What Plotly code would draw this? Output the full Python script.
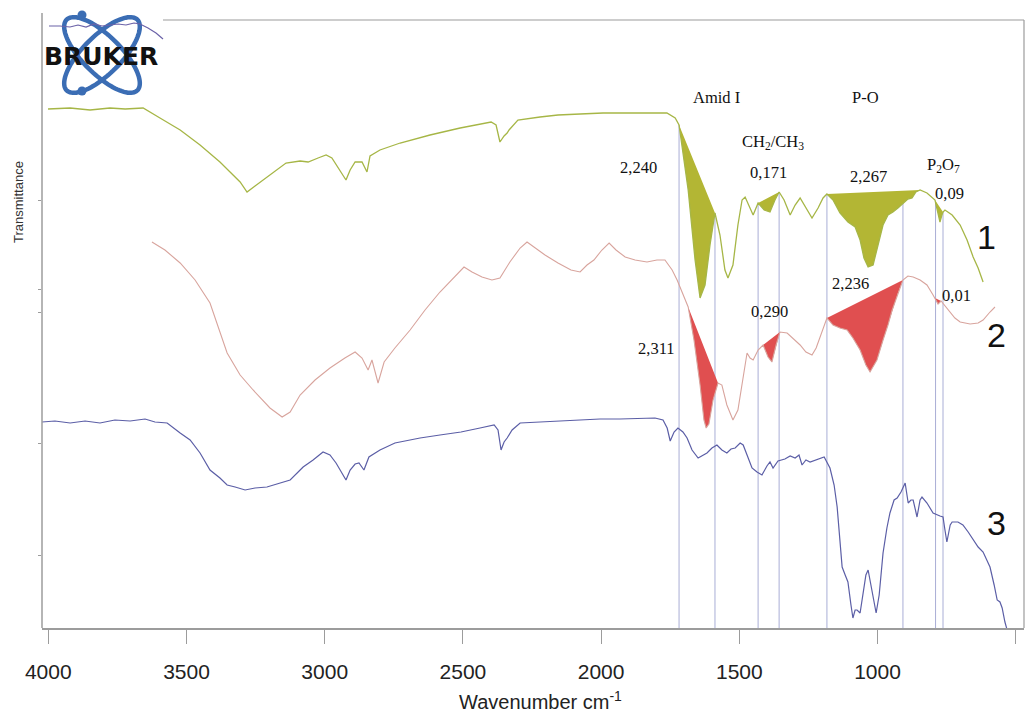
import numpy as np
import plotly.graph_objects as go

# ---------------- data (wavenumber cm-1, transmittance a.u.) ----------------
wn1 = [4001, 3921, 3849, 3777, 3722, 3657, 3596, 3523, 3451, 3379, 3306, 3281, 3252, 3198,
       3140, 3089, 3060, 3024, 2995, 2974, 2952, 2923, 2908, 2890, 2865, 2847, 2836, 2800,
       2727, 2619, 2510, 2398, 2380, 2366, 2351, 2340, 2333, 2301, 2221, 2156, 2076, 1993,
       1859, 1762, 1732, 1718, 1685, 1660, 1642, 1624, 1606, 1588, 1570, 1552, 1541, 1523,
       1505, 1490, 1479, 1465, 1450, 1432, 1410, 1389, 1371, 1356, 1338, 1316, 1298, 1280,
       1259, 1237, 1215, 1197, 1183, 1161, 1136, 1107, 1081, 1063, 1049, 1034, 1016, 998,
       980, 962, 944, 926, 908, 890, 875, 861, 846, 821, 792, 781, 774, 767, 763, 756, 730,
       701, 676, 654, 636, 618]
t1 = [519, 520, 518, 520, 519, 520, 510, 498, 483, 466, 446, 436, 442, 453,
      465, 467, 466, 470, 473, 470, 460, 448, 458, 466, 466, 456, 472, 478,
      485, 493, 500, 506, 503, 486, 492, 495, 498, 508, 511, 513, 514, 515,
      515, 515, 510, 503, 438, 368, 330, 343, 383, 415, 393, 358, 350, 363,
      403, 428, 431, 423, 413, 425, 418, 416, 428, 436, 428, 413, 423, 430,
      420, 410, 420, 430, 434, 428, 415, 406, 401, 388, 370, 361, 363, 383,
      403, 413, 416, 420, 425, 429, 430, 436, 438, 435, 428, 416, 406, 413, 416, 418, 413,
      403, 388, 371, 360, 346]

wn2 = [3625, 3578, 3523, 3469, 3415, 3353, 3306, 3259, 3198, 3154, 3125, 3089, 3035, 2981,
       2927, 2890, 2865, 2843, 2829, 2807, 2785, 2746, 2691, 2637, 2583, 2547, 2496, 2467,
       2431, 2395, 2366, 2330, 2293, 2268, 2239, 2203, 2156, 2109, 2076, 2051, 2026, 1997,
       1971, 1946, 1913, 1877, 1834, 1798, 1769, 1743, 1725, 1704, 1685, 1664, 1642, 1628,
       1620, 1610, 1595, 1577, 1563, 1545, 1523, 1505, 1486, 1472, 1461, 1450, 1432, 1414,
       1396, 1382, 1367, 1353, 1327, 1306, 1280, 1259, 1237, 1222, 1208, 1183, 1161, 1136,
       1110, 1089, 1063, 1042, 1027, 1002, 980, 962, 947, 926, 908, 890, 871, 846, 821, 799,
       792, 781, 770, 756, 738, 720, 701, 665, 636, 618, 593, 575]
t2 = [386, 378, 365, 348, 325, 275, 253, 238, 220, 211, 216, 233, 248, 260,
      270, 276, 270, 258, 268, 245, 266, 280, 298, 318, 336, 346, 361, 356,
      351, 348, 350, 366, 380, 386, 380, 373, 365, 358, 356, 363, 368, 378,
      385, 378, 371, 368, 366, 368, 368, 358, 348, 333, 321, 288, 243, 208,
      200, 204, 228, 245, 243, 223, 208, 218, 253, 275, 270, 268, 278, 283,
      271, 266, 283, 296, 295, 290, 283, 276, 273, 280, 291, 310, 303, 300,
      298, 290, 278, 263, 256, 268, 288, 303, 318, 335, 348, 352, 351, 348, 343, 333,
      330, 324, 327, 322, 316, 310, 306, 304, 305, 308, 316, 321]

wn3 = [4023, 3976, 3921, 3867, 3813, 3759, 3704, 3650, 3614, 3570, 3523, 3487, 3451, 3415,
       3379, 3353, 3324, 3288, 3252, 3209, 3173, 3125, 3078, 3042, 3006, 2981, 2959, 2941,
       2923, 2908, 2890, 2876, 2858, 2840, 2800, 2746, 2655, 2583, 2507, 2438, 2387, 2373,
       2362, 2351, 2340, 2322, 2293, 2221, 2149, 2076, 2004, 1932, 1859, 1805, 1776, 1761,
       1750, 1736, 1722, 1704, 1689, 1671, 1649, 1631, 1617, 1599, 1581, 1563, 1545, 1530,
       1515, 1497, 1486, 1472, 1454, 1436, 1418, 1400, 1389, 1378, 1360, 1335, 1316, 1298,
       1284, 1273, 1259, 1244, 1222, 1193, 1172, 1157, 1146, 1136, 1128, 1117, 1107, 1096,
       1089, 1081, 1074, 1063, 1052, 1042, 1034, 1024, 1013, 1005, 994, 980, 966, 955, 940,
       929, 915, 900, 889, 879, 871, 857, 846, 839, 821, 799, 774, 763, 756, 749, 737, 730,
       709, 691, 672, 651, 636, 618, 604, 593, 578, 567, 557, 549, 539, 531]
t3 = [206, 207, 205, 207, 205, 208, 207, 209, 206, 205, 195, 188, 175, 158,
      150, 143, 141, 138, 140, 141, 144, 148, 161, 168, 176, 173, 165, 156,
      148, 158, 164, 165, 158, 171, 178, 185, 190, 193, 196, 200, 203, 198,
      178, 186, 190, 198, 205, 206, 207, 208, 209, 209, 210, 210, 208, 200,
      187, 196, 200, 196, 190, 178, 170, 173, 175, 180, 183, 178, 175, 179,
      180, 185, 183, 173, 160, 156, 153, 162, 166, 160, 167, 169, 172, 170,
      173, 163, 168, 166, 168, 171, 160, 143, 121, 88, 61, 53, 46, 23,
      10, 18, 18, 15, 33, 53, 58, 43, 23, 15, 33, 75, 100, 115, 128,
      130, 136, 145, 125, 128, 128, 111, 128, 131, 125, 115, 112, 111, 98, 86, 103, 106,
      106, 103, 96, 88, 81, 76, 68, 61, 43, 28, 26, 20, 6, -2]

fills1 = [(1718, 1588), (1432, 1356), (1183, 846), (792, 763)]
fills2 = [(1685, 1577), (1414, 1353), (1183, 908), (792, 770)]
band_lines = [1718, 1588, 1432, 1356, 1183, 908, 790, 763]

tick_vals = [4000, 3500, 3000, 2500, 2000, 1500, 1000, 500]
tick_text = [str(v) for v in tick_vals]

band_labels = [
    ("Amid I", 1584, 531), ("P-O", 1045, 531), ("CH<sub>2</sub>/CH<sub>3</sub>", 1378, 486),
    ("2,240", 1866, 461), ("0,171", 1396, 456), ("2,267", 1034, 452),
    ("P<sub>2</sub>O<sub>7</sub>", 763, 463), ("0,09", 741, 435),
    ("2,236", 1096, 345), ("0,01", 716, 333), ("0,290", 1392, 317), ("2,311", 1801, 280),
]
curve_labels = [("1", 604, 391), ("2", 568, 293), ("3", 571, 105)]

# ---------------- colours ----------------
C1, F1 = "#a6b646", "#b3b634"
C2, F2 = "#d8a49d", "#e04f50"
C3 = "#5b5ea6"
VL = "#a9aed6"
FRAME = "#9c9c9c"

X_RANGE = [4022.8, 470]
Y_RANGE = [0, 608]

SANS = "Liberation Sans, Arial, sans-serif"
SERIF = "Liberation Serif, Times New Roman, serif"

fig = go.Figure()


def segment(wn, t, hi, lo):
    xs = [w for w in wn if lo <= w <= hi]
    ys = [v for w, v in zip(wn, t) if lo <= w <= hi]
    return xs + [xs[0]], ys + [ys[0]]


for hi, lo in fills1:
    xs, ys = segment(wn1, t1, hi, lo)
    fig.add_trace(go.Scatter(x=xs, y=ys, fill="toself", fillcolor=F1, mode="lines",
                             line=dict(width=0, color=F1), hoverinfo="skip"))
for hi, lo in fills2:
    xs, ys = segment(wn2, t2, hi, lo)
    fig.add_trace(go.Scatter(x=xs, y=ys, fill="toself", fillcolor=F2, mode="lines",
                             line=dict(width=0, color=F2), hoverinfo="skip"))

fig.add_trace(go.Scatter(x=wn1, y=t1, mode="lines", line=dict(color=C1, width=1.3)))
fig.add_trace(go.Scatter(x=wn2, y=t2, mode="lines", line=dict(color=C2, width=1.1)))
fig.add_trace(go.Scatter(x=wn3, y=t3, mode="lines", line=dict(color=C3, width=1.2)))

shapes = []
top1 = np.interp(band_lines, wn1[::-1], t1[::-1])
for v, top in zip(band_lines, top1):
    shapes.append(dict(type="line", xref="x", yref="y", x0=v, x1=v, y0=0, y1=float(top),
                       line=dict(color=VL, width=1), layer="below"))

# The page adds an 8px body margin, so the figure is drawn 8px smaller and
# everything below is expressed in page pixels of the reference picture.
OFF = 8
PL, PR, PT, PB = 42, 1024, 20, 628          # plot area on the page
W, H = 1033 - OFF, 722 - OFF
ML, MT = PL - OFF, PT - OFF
MR, MB = W - (PR - OFF), H - (PB - OFF)
PW, PH = PR - PL, PB - PT


def P(px, py):
    return (px - PL) / PW, (PB - py) / PH


x0p, _ = P(163, 20)
shapes.append(dict(type="line", xref="paper", yref="paper", x0=x0p, x1=1, y0=1, y1=1,
                   line=dict(color=FRAME, width=1.2)))
shapes.append(dict(type="line", xref="paper", yref="paper", x0=1, x1=1, y0=0, y1=1,
                   line=dict(color=FRAME, width=1.2)))
_, b_ = P(42, 13)
shapes.append(dict(type="line", xref="paper", yref="paper", x0=0, x1=0, y0=0, y1=b_,
                   line=dict(color=FRAME, width=1.5)))


# ---------------- Bruker logo (drawn) ----------------
def ellipse_path(cx, cy, a, b, ang):
    pts = []
    for k in range(97):
        th = 2 * np.pi * k / 96
        x, y = a * np.cos(th), b * np.sin(th)
        xr = x * np.cos(ang) - y * np.sin(ang)
        yr = x * np.sin(ang) + y * np.cos(ang)
        pts.append(P(cx + xr, cy + yr))
    return "M " + " L ".join(f"{p[0]:.5f},{p[1]:.5f}" for p in pts) + " Z"


LOGO = "#3b6db4"
for ang in (np.pi / 4, -np.pi / 4):
    shapes.append(dict(type="path", xref="paper", yref="paper",
                       path=ellipse_path(102, 55, 50, 19, ang),
                       line=dict(color=LOGO, width=4.5)))
for cx, cy in [(82, 15), (82, 91)]:
    a0, b0 = P(cx - 4.5, cy + 4.5)
    a1, b1 = P(cx + 4.5, cy - 4.5)
    shapes.append(dict(type="circle", xref="paper", yref="paper", x0=a0, y0=b0, x1=a1, y1=b1,
                       fillcolor=LOGO, line=dict(color=LOGO, width=0)))
logo_line = [(49, 26), (60, 26), (70, 27), (78, 25), (86, 27), (94, 24), (102, 26), (110, 25),
             (118, 24), (126, 25), (134, 23), (140, 24), (148, 28), (156, 33), (163, 39)]
shapes.append(dict(type="path", xref="paper", yref="paper",
                   path="M " + " L ".join("{:.5f},{:.5f}".format(*P(x, y)) for x, y in logo_line),
                   line=dict(color="#6b62a8", width=1.2)))

annotations = []
bx, by = P(101, 56)
annotations.append(dict(x=bx, y=by, xref="paper", yref="paper", text="<b>BRUKER</b>",
                        showarrow=False, xanchor="center", yanchor="middle",
                        font=dict(family="DejaVu Sans", size=25, color="#111111")))

for txt, x, y in band_labels:
    annotations.append(dict(x=x, y=y, xref="x", yref="y", text=txt, showarrow=False,
                            xanchor="center", yanchor="middle",
                            font=dict(family=SERIF, size=16.5, color="#111111")))
for txt, x, y in curve_labels:
    annotations.append(dict(x=x, y=y, xref="x", yref="y", text=txt, showarrow=False,
                            xanchor="center", yanchor="middle",
                            font=dict(family=SANS, size=34, color="#111111")))

tx, ty = P(19, 202)
annotations.append(dict(x=tx, y=ty, xref="paper", yref="paper", text="Transmittance",
                        textangle=-90, showarrow=False, xanchor="center", yanchor="middle",
                        font=dict(family=SANS, size=13, color="#333333")))
wx, wy = P(540, 700)
annotations.append(dict(x=wx, y=wy, xref="paper", yref="paper",
                        text="Wavenumber cm<sup>-1</sup>", showarrow=False,
                        xanchor="center", yanchor="middle",
                        font=dict(family=SANS, size=20, color="#222222")))

fig.update_layout(
    width=W, height=H,
    margin=dict(l=ML, r=MR, t=MT, b=MB, autoexpand=False),
    paper_bgcolor="white", plot_bgcolor="white",
    showlegend=False,
    shapes=shapes, annotations=annotations,
    xaxis=dict(range=X_RANGE, showgrid=False, zeroline=False, showline=True,
               linecolor=FRAME, linewidth=1.5, ticks="outside", ticklen=14, tickwidth=1,
               tickcolor=FRAME, tickvals=tick_vals, ticktext=tick_text,
               ticklabelstandoff=10, automargin=False,
               tickfont=dict(family=SANS, size=21, color="#222222")),
    yaxis=dict(range=Y_RANGE, showgrid=False, zeroline=False, showline=False,
               ticks="outside", ticklen=3, tickcolor=FRAME, automargin=False,
               tickvals=[428, 339, 316, 185, 73], showticklabels=False),
)

fig.write_html("out.html")
